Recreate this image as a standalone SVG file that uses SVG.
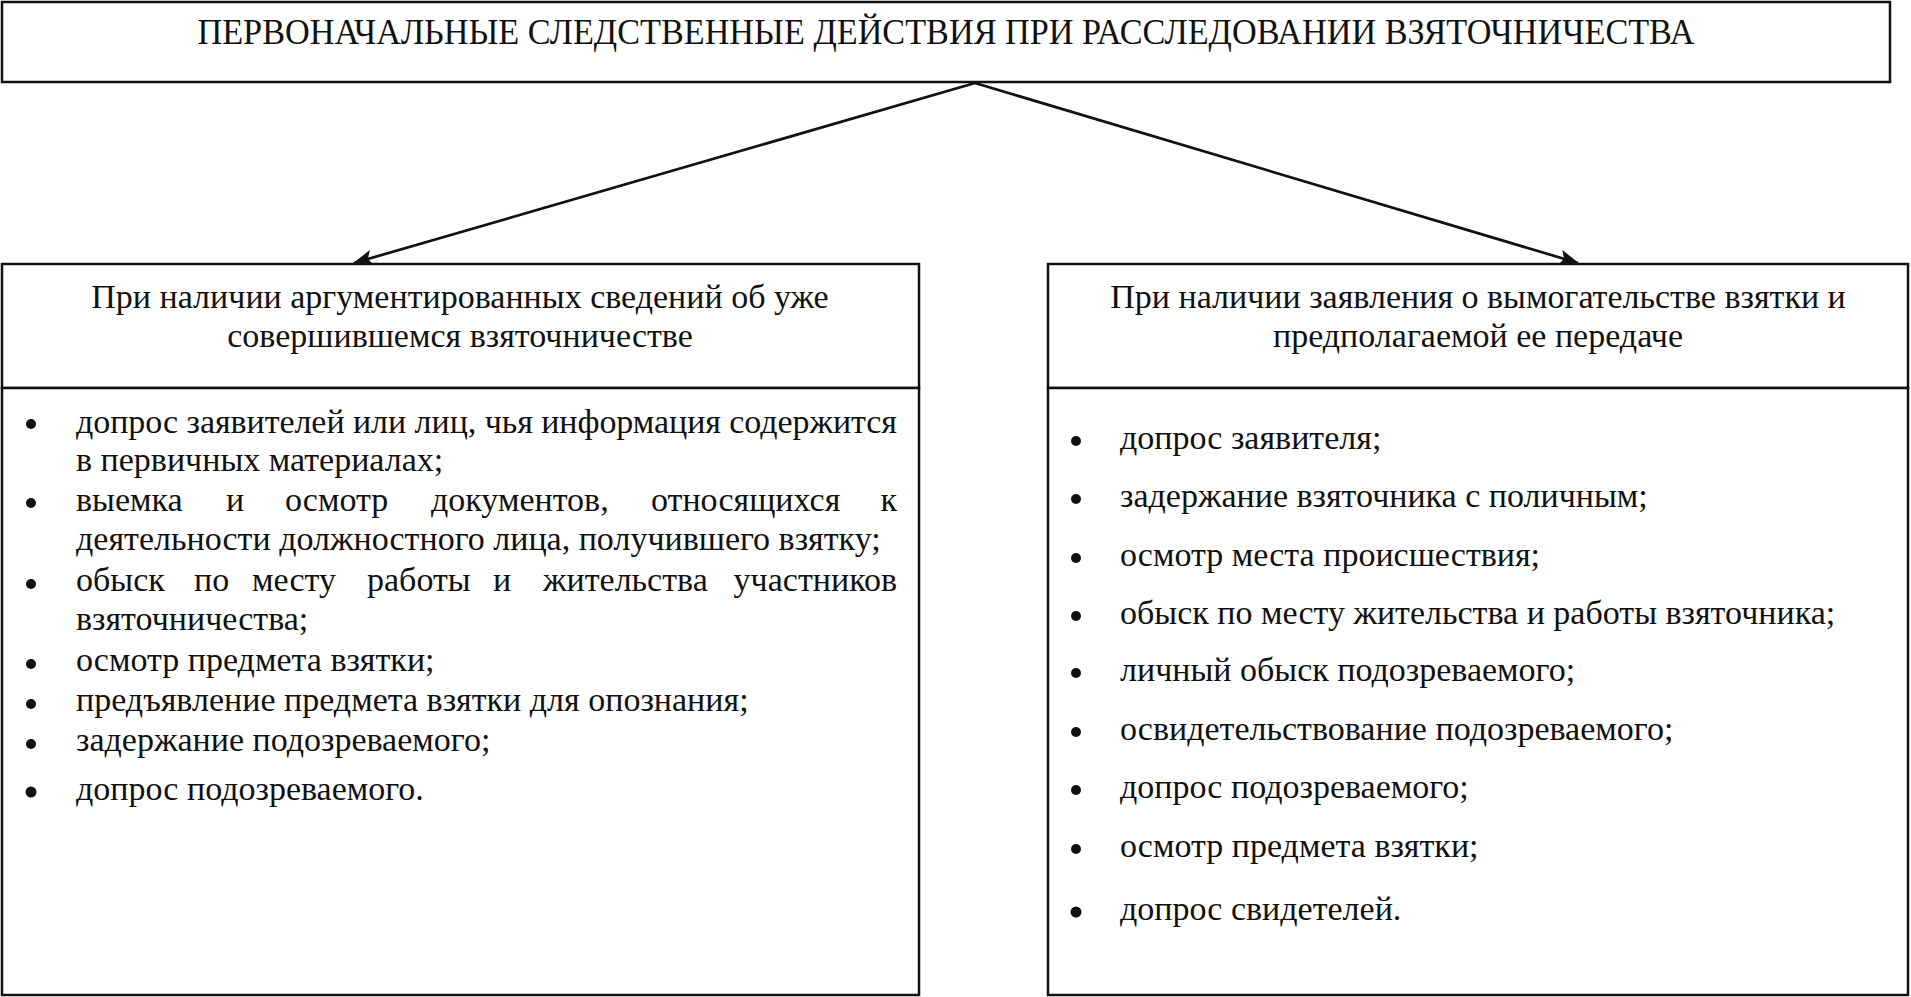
<svg xmlns="http://www.w3.org/2000/svg" width="1911" height="997" viewBox="0 0 1911 997">
<style>
.box{fill:#fff;stroke:#111;stroke-width:2.5}
.t{font-family:"Liberation Serif","Times New Roman",serif;fill:#111}
.title{font-size:35px}
.hd{font-size:34px;text-anchor:middle}
.li{font-size:34px}
.conn{stroke:#111;stroke-width:2.7;fill:none;marker-end:url(#ah)}
.b{fill:#111}
</style>
<defs>
<marker id="ah" viewBox="0 0 14 11" refX="13" refY="5.5" markerWidth="7.5" markerHeight="6" orient="auto" markerUnits="strokeWidth">
<path d="M0,0 L14,5.5 L0,11 L3,5.5 z" fill="#111"/>
</marker>
</defs>
<rect x="0" y="0" width="1911" height="997" fill="#fff"/>
<g id="connectors">
<line class="conn" x1="975" y1="83" x2="354" y2="263"/>
<line class="conn" x1="975" y1="83" x2="1578" y2="263"/>
</g>
<g id="title">
<rect class="box" x="2" y="2" width="1888" height="80"/>
<text class="t title" x="946" y="44" text-anchor="middle" textLength="1497" lengthAdjust="spacingAndGlyphs">ПЕРВОНАЧАЛЬНЫЕ СЛЕДСТВЕННЫЕ ДЕЙСТВИЯ ПРИ РАССЛЕДОВАНИИ ВЗЯТОЧНИЧЕСТВА</text>
</g>
<g id="left-header">
<rect class="box" x="2" y="264" width="917" height="124"/>
<text class="t hd" x="460" y="308">При наличии аргументированных сведений об уже</text>
<text class="t hd" x="460" y="347">совершившемся взяточничестве</text>
</g>
<g id="left-list">
<rect class="box" x="2" y="388" width="917" height="607"/>
<circle class="b" cx="31" cy="424" r="5"/>
<circle class="b" cx="31" cy="503" r="5"/>
<circle class="b" cx="31" cy="584" r="5"/>
<circle class="b" cx="31" cy="664" r="5"/>
<circle class="b" cx="31" cy="704" r="5"/>
<circle class="b" cx="31" cy="744" r="5"/>
<circle class="b" cx="31" cy="792" r="5.5"/>
<text class="t li" x="76" y="433" textLength="821" lengthAdjust="spacing">допрос заявителей или лиц, чья информация содержится</text>
<text class="t li" x="76" y="471">в первичных материалах;</text>
<text class="t li" y="511"><tspan x="76">выемка</tspan><tspan x="226">и</tspan><tspan x="285">осмотр</tspan><tspan x="431">документов,</tspan><tspan x="651">относящихся</tspan></text>
<text class="t li" x="897" y="511" text-anchor="end">к</text>
<text class="t li" x="76" y="550">деятельности должностного лица, получившего взятку;</text>
<text class="t li" y="591"><tspan x="76">обыск</tspan><tspan x="194">по</tspan><tspan x="252">месту</tspan><tspan x="367">работы</tspan><tspan x="493">и</tspan><tspan x="543">жительства</tspan></text>
<text class="t li" x="897" y="591" text-anchor="end">участников</text>
<text class="t li" x="76" y="630">взяточничества;</text>
<text class="t li" x="76" y="671">осмотр предмета взятки;</text>
<text class="t li" x="76" y="711">предъявление предмета взятки для опознания;</text>
<text class="t li" x="76" y="751">задержание подозреваемого;</text>
<text class="t li" x="76" y="800">допрос подозреваемого.</text>
</g>
<g id="right-header">
<rect class="box" x="1048" y="264" width="860" height="124"/>
<text class="t hd" x="1478" y="308">При наличии заявления о вымогательстве взятки и</text>
<text class="t hd" x="1478" y="347">предполагаемой ее передаче</text>
</g>
<g id="right-list">
<rect class="box" x="1048" y="388" width="860" height="607"/>
<circle class="b" cx="1076" cy="441" r="5"/>
<circle class="b" cx="1076" cy="499" r="5"/>
<circle class="b" cx="1076" cy="558" r="5"/>
<circle class="b" cx="1076" cy="616" r="5"/>
<circle class="b" cx="1076" cy="673" r="5"/>
<circle class="b" cx="1076" cy="732" r="5"/>
<circle class="b" cx="1076" cy="790" r="5"/>
<circle class="b" cx="1076" cy="849" r="5"/>
<circle class="b" cx="1076" cy="912" r="5.5"/>
<text class="t li" x="1120" y="449">допрос заявителя;</text>
<text class="t li" x="1120" y="507">задержание взяточника с поличным;</text>
<text class="t li" x="1120" y="566">осмотр места происшествия;</text>
<text class="t li" x="1120" y="624">обыск по месту жительства и работы взяточника;</text>
<text class="t li" x="1120" y="681">личный обыск подозреваемого;</text>
<text class="t li" x="1120" y="740">освидетельствование подозреваемого;</text>
<text class="t li" x="1120" y="798">допрос подозреваемого;</text>
<text class="t li" x="1120" y="857">осмотр предмета взятки;</text>
<text class="t li" x="1120" y="920">допрос свидетелей.</text>
</g>
</svg>
